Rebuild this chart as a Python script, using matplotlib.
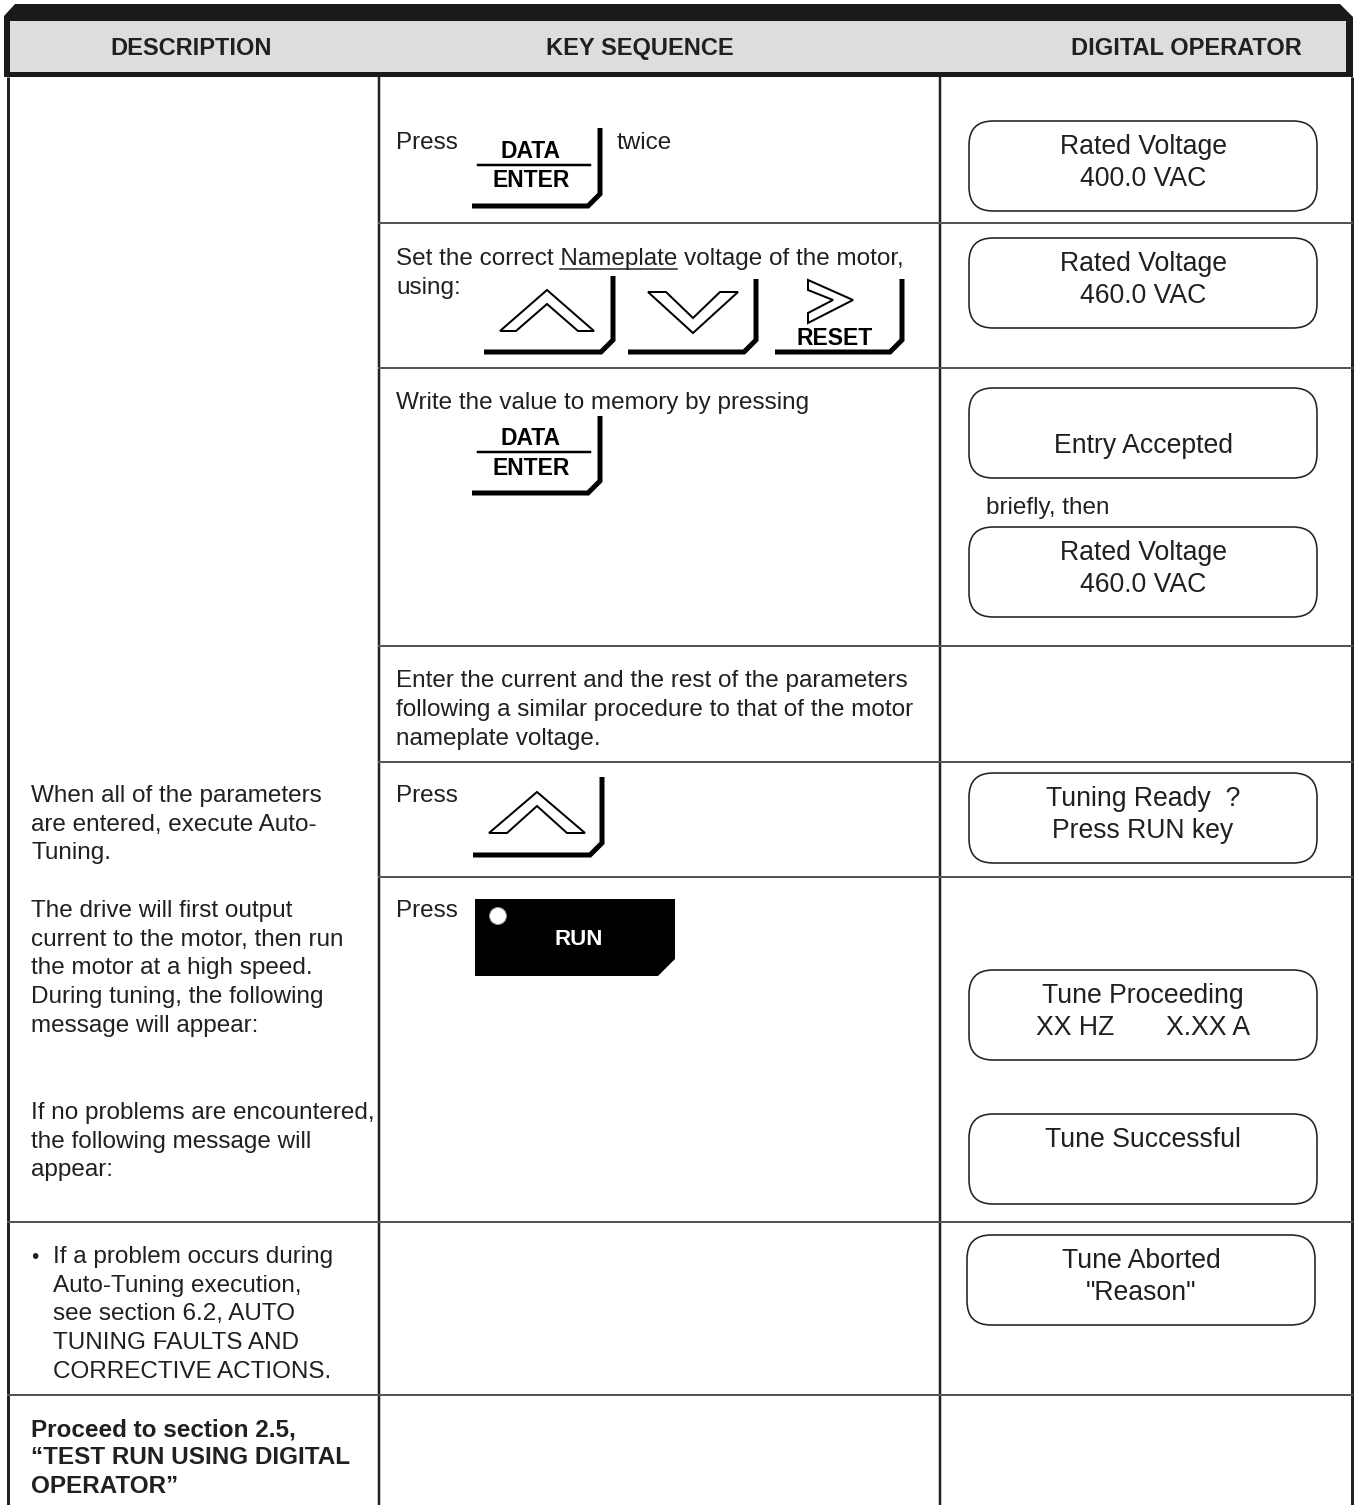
import matplotlib.pyplot as plt
from matplotlib.patches import Polygon, FancyBboxPatch, Circle

plt.rcParams['font.family'] = ['Liberation Sans', 'DejaVu Sans']

W, H = 1355, 1505
INK = '#231f20'
BODY = 17.5

# ---- table content ----
header_labels = ['DESCRIPTION', 'KEY SEQUENCE', 'DIGITAL OPERATOR']
header_x = [191, 640, 1186]

col_edges = [8, 379, 940, 1352]
row_lines_right = [223, 368, 646, 762, 877]   # only key/operator columns
row_lines_full = [1222, 1395]

desc_blocks = [
    (31, 794, ['When all of the parameters', 'are entered, execute Auto-', 'Tuning.']),
    (31, 909, ['The drive will first output', 'current to the motor, then run',
               'the motor at a high speed.', 'During tuning, the following',
               'message will appear:']),
    (31, 1111, ['If no problems are encountered,', 'the following message will', 'appear:']),
    (53, 1255, ['If a problem occurs during', 'Auto-Tuning execution,',
                'see section 6.2, AUTO', 'TUNING FAULTS AND', 'CORRECTIVE ACTIONS.']),
]
bold_block = (31, 1428, ['Proceed to section 2.5,', '\u201cTEST RUN USING DIGITAL', 'OPERATOR\u201d'])

key_blocks = [
    (396, 141, ['Press']),
    (617, 141, ['twice']),
    (396, 257, ['Set the correct Nameplate voltage of the motor,', 'using:']),
    (396, 401, ['Write the value to memory by pressing']),
    (396, 679, ['Enter the current and the rest of the parameters',
                'following a similar procedure to that of the motor',
                'nameplate voltage.']),
    (396, 794, ['Press']),
    (396, 909, ['Press']),
]

display_lines = [
    ['Rated Voltage', '400.0 VAC'],
    ['Rated Voltage', '460.0 VAC'],
    ['', 'Entry Accepted'],
    ['Rated Voltage', '460.0 VAC'],
    ['Tuning Ready  ?', 'Press RUN key'],
    ['Tune Proceeding', 'XX HZ       X.XX A'],
    ['Tune Successful', ''],
    ['Tune Aborted', '"Reason"'],
]
display_top = [121, 238, 388, 527, 773, 970, 1114, 1235]
display_left = [969, 969, 969, 969, 969, 969, 969, 967]

fig = plt.figure(figsize=(W / 100, H / 100), dpi=100)
ax = fig.add_axes([0, 0, 1, 1])
ax.set_xlim(0, W)
ax.set_ylim(H, 0)
ax.axis('off')


def px(v):
    return v * 0.72


def text_lines(x, y, lines, step=29, size=BODY, weight='normal', ha='left', color=INK):
    for i, s in enumerate(lines):
        ax.text(x, y + i * step + 8, s, fontsize=size, fontweight=weight,
                ha=ha, va='baseline', color=color)


def key_frame(xl, xr, yt, yb, bevel=12, lw=5):
    xs = [xr, xr, xr - bevel, xl]
    ys = [yt, yb - bevel, yb, yb]
    ax.plot(xs, ys, color='black', lw=px(lw), solid_joinstyle='miter',
            solid_capstyle='butt')


def data_enter_key(yt, y_data, y_line, y_enter, yb):
    key_frame(472, 600, yt, yb)
    ax.plot([478, 590], [y_line, y_line], color='black', lw=px(2.5))
    ax.text(531, y_data + 8, 'DATA', fontsize=16.5, fontweight='bold', ha='center', va='baseline')
    ax.text(531, y_enter + 8, 'ENTER', fontsize=16.5, fontweight='bold', ha='center', va='baseline')


def chevron(pts):
    ax.add_patch(Polygon(pts, closed=True, facecolor='white', edgecolor='black',
                         lw=px(2), joinstyle='miter'))


# ---- header ----
ax.add_patch(Polygon([(4, 16), (15, 4), (1340, 4), (1353, 17), (1353, 77), (4, 77)],
                     closed=True, facecolor='#1a1a1a', edgecolor='none'))
ax.add_patch(Polygon([(10, 21), (1346, 21), (1346, 72), (10, 72)],
                     closed=True, facecolor='#dcdddf', edgecolor='none'))
for lbl, x in zip(header_labels, header_x):
    ax.text(x, 47 + 8, lbl, fontsize=17, fontweight='bold', ha='center', va='baseline', color=INK)

# ---- grid ----
ax.plot([8, 8], [77, H], color='#222', lw=px(3), solid_capstyle='butt')
ax.plot([1352, 1352], [77, H], color='#222', lw=px(3), solid_capstyle='butt')
for x in col_edges[1:3]:
    ax.plot([x, x], [77, H], color='#222', lw=px(2.5), solid_capstyle='butt')
for y in row_lines_right:
    ax.plot([col_edges[1], col_edges[3]], [y, y], color='#555', lw=px(2))
for y in row_lines_full:
    ax.plot([col_edges[0], col_edges[3]], [y, y], color='#555', lw=px(2))

# ---- description column ----
for x, y, lines in desc_blocks:
    text_lines(x, y, lines, step=28.7)
ax.text(31, 1255 + 8, '\u2022', fontsize=15, ha='left', va='baseline', color=INK)
text_lines(*bold_block, step=28.5, weight='bold')

# ---- key sequence column ----
for x, y, lines in key_blocks:
    text_lines(x, y, lines)
ax.plot([560, 677], [269, 269], color=INK, lw=px(1.5))

data_enter_key(128, 150, 165, 179, 206)
data_enter_key(416, 437, 452, 467, 493)

# arrow / reset keys
key_frame(484, 613, 276, 352)
chevron([(500, 331), (547, 290), (594, 331), (578, 331), (547, 304), (516, 331)])
key_frame(628, 756, 279, 352)
chevron([(648, 292), (666, 292), (693, 318), (720, 292), (738, 292), (693, 333)])
key_frame(775, 902, 279, 352)
chevron([(808, 280), (853, 300), (808, 323), (808, 313), (833, 300), (808, 290)])
ax.text(835, 337 + 8, 'RESET', fontsize=16.5, fontweight='bold', ha='center', va='baseline')

# up key alone
key_frame(473, 602, 777, 855)
chevron([(489, 833), (537, 792), (585, 833), (567, 833), (537, 806), (507, 833)])

# run key
ax.add_patch(Polygon([(475, 899), (675, 899), (675, 959), (658, 976), (475, 976)],
                     closed=True, facecolor='black', edgecolor='none'))
ax.add_patch(Circle((498, 916), 8.5, facecolor='white', edgecolor='#888', lw=px(1)))
ax.text(579, 937 + 8, 'RUN', fontsize=16, fontweight='bold', ha='center', va='baseline', color='white')

# ---- digital operator column ----
for top, left, lines in zip(display_top, display_left, display_lines):
    ax.add_patch(FancyBboxPatch((left, top), 348, 90,
                                boxstyle='round,pad=0,rounding_size=24',
                                facecolor='white', edgecolor='#222', lw=px(1.6)))
    cx = left + 174
    for i, s in enumerate(lines):
        if s:
            ax.text(cx, top + 24 + 32 * i + 9, s, fontsize=19.2, ha='center',
                    va='baseline', color=INK)

ax.text(986, 506 + 8, 'briefly, then', fontsize=BODY, ha='left', va='baseline', color=INK)

fig.savefig('out.png', dpi=100)
